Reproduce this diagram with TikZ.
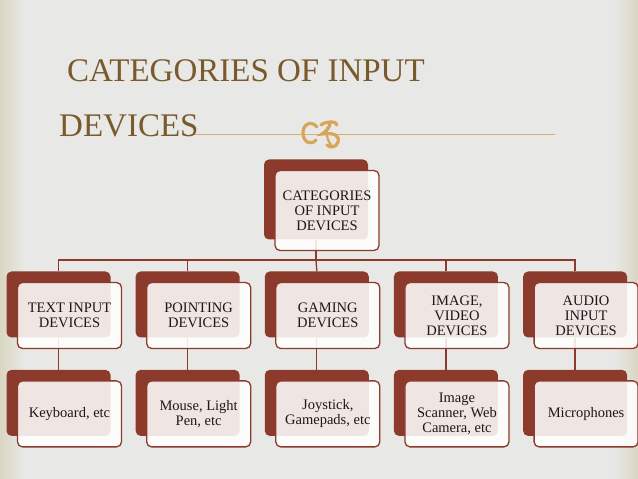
\documentclass[tikz,border=0pt]{standalone}
\usepackage{fontspec}
\setmainfont{Liberation Serif}
\usetikzlibrary{positioning}
\definecolor{boxred}{HTML}{8B3A2C}
\definecolor{slidebg}{HTML}{E8E8E6}
\definecolor{edgebeige}{HTML}{D9D6C2}
\definecolor{titlebrown}{HTML}{7A5A2C}
\definecolor{ornamentgold}{HTML}{D9A55A}
\definecolor{rulegold}{HTML}{D8AE74}
\tikzset{
  backbox/.style={fill=boxred, rounded corners=5pt, minimum width=104pt, minimum height=66pt, inner sep=0pt},
  frontbox/.style={draw=boxred, line width=1.3pt, fill=white, fill opacity=0.87, text opacity=1,
    rounded corners=5pt, minimum width=104pt, minimum height=66pt, inner sep=0pt, align=center,
    text=black!90, font=\fontsize{14.5}{15}\selectfont},
  tallbox/.style={minimum height=80pt},
  link/.style={draw=boxred, line width=1.3pt},
  titletext/.style={text=titlebrown, font=\fontsize{33}{36}\selectfont, inner sep=0pt},
  ornament/.style={ornamentgold, line width=3.2pt, line cap=round}
}
\begin{document}
\begin{tikzpicture}[x=1pt, y=1pt]
\useasboundingbox (0,0) rectangle (638,479);
% slide background
\fill[slidebg] (0,0) rectangle (638,479);
\shade[left color=edgebeige, right color=slidebg] (0,0) rectangle (24,479);
\shade[left color=slidebg, right color=edgebeige] (614,0) rectangle (638,479);

% title
\draw[rulegold, line width=1pt] (190,344) -- (555,344);
\node[titletext, anchor=base west] (title1) at (67,397) {CATEGORIES OF INPUT};
\node[titletext, anchor=base west] (title2) at (59,342) {DEVICES};
\draw[ornament]
  (317,352) .. controls (311,359) and (303,355) .. (303,346)
  .. controls (303,337) and (311,333) .. (316,339);
\draw[ornament]
  (321,354) .. controls (326,358) and (337,358) .. (337,354);
\draw[ornament]
  (330,355) .. controls (329,350) and (325,347) .. (322,345)
  .. controls (336,347) and (340,342) .. (338,337)
  .. controls (336,331) and (330,331) .. (327,334);
\draw[ornament, line width=2.2pt]
  (327,351) .. controls (326,343) and (328,337) .. (332,333);

% back boxes
\node[backbox, tallbox] (topb) at (316,279.5) {};
\node[backbox] (textb) at (58.5,174.5) {};
\node[backbox, right=24.75pt of textb] (pointb) {};
\node[backbox, right=24.75pt of pointb] (gameb) {};
\node[backbox, right=24.75pt of gameb] (imageb) {};
\node[backbox, right=24.75pt of imageb] (audiob) {};
\node[backbox, below=32pt of textb] (keyb) {};
\node[backbox, below=32pt of pointb] (mouseb) {};
\node[backbox, below=32pt of gameb] (joyb) {};
\node[backbox, below=32pt of imageb] (scanb) {};
\node[backbox, below=32pt of audiob] (micb) {};

% connectors
\coordinate (bus) at (316,219);
\draw[link] (topb.south) -- (bus) -| (textb.north);
\draw[link] (bus) -| (pointb.north);
\draw[link] (bus) -- (gameb.north);
\draw[link] (bus) -| (imageb.north);
\draw[link] (bus) -| (audiob.north);
\draw[link] (textb.south) -- (keyb.north);
\draw[link] (pointb.south) -- (mouseb.north);
\draw[link] (gameb.south) -- (joyb.north);
\draw[link] (imageb.south) -- (scanb.north);
\draw[link] (audiob.south) -- (micb.north);

% front boxes
\node[frontbox, tallbox] (top) at ([shift={(11,-11)}]topb.center) {CATEGORIES\\OF INPUT\\DEVICES};
\node[frontbox] (text) at ([shift={(11,-11)}]textb.center) {TEXT INPUT\\DEVICES};
\node[frontbox] (point) at ([shift={(11,-11)}]pointb.center) {POINTING\\DEVICES};
\node[frontbox] (game) at ([shift={(11,-11)}]gameb.center) {GAMING\\DEVICES};
\node[frontbox] (image) at ([shift={(11,-11)}]imageb.center) {IMAGE,\\VIDEO\\DEVICES};
\node[frontbox] (audio) at ([shift={(11,-11)}]audiob.center) {AUDIO\\INPUT\\DEVICES};
\node[frontbox] (key) at ([shift={(11,-11)}]keyb.center) {Keyboard, etc};
\node[frontbox] (mouse) at ([shift={(11,-11)}]mouseb.center) {Mouse, Light\\Pen, etc};
\node[frontbox] (joy) at ([shift={(11,-11)}]joyb.center) {Joystick,\\Gamepads, etc};
\node[frontbox] (scan) at ([shift={(11,-11)}]scanb.center) {Image\\Scanner, Web\\Camera, etc};
\node[frontbox] (mic) at ([shift={(11,-11)}]micb.center) {Microphones};
\end{tikzpicture}
\end{document}
